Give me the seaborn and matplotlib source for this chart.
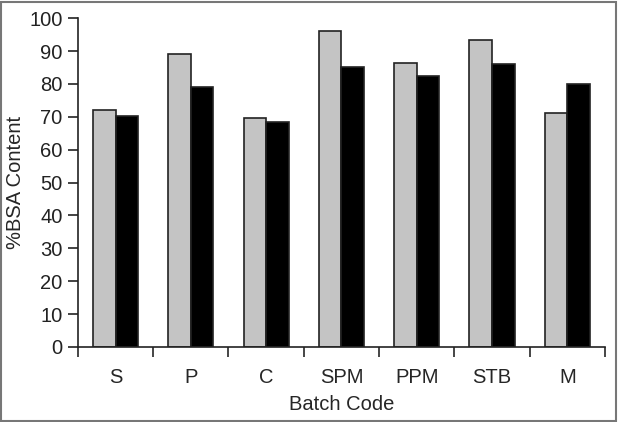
import numpy as np
import pandas as pd
import matplotlib
matplotlib.use("Agg")
import matplotlib.pyplot as plt
import seaborn as sns

# ---- data ----
batches = ["S", "P", "C", "SPM", "PPM", "STB", "M"]
series_a = [72.0, 89.0, 69.5, 96.0, 86.5, 93.3, 71.2]   # grey bars
series_b = [70.3, 79.0, 68.5, 85.0, 82.5, 86.0, 80.0]   # black bars
yticks = list(range(0, 101, 10))

df = pd.DataFrame({
    "Batch": batches * 2,
    "Content": series_a + series_b,
    "Series": ["A"] * len(batches) + ["B"] * len(batches),
})

# ---- style ----
sns.set_style("ticks")
plt.rcParams["font.family"] = ["Liberation Sans", "DejaVu Sans"]
fs = 14.5

fig = plt.figure(figsize=(6.18, 4.22), dpi=100)
ax = fig.add_axes([0.126, 0.178, 0.853, 0.779])

sns.barplot(data=df, x="Batch", y="Content", hue="Series",
            palette=["#c4c4c4", "black"], width=0.6, gap=0,
            edgecolor="#222222", linewidth=1.2, legend=False, ax=ax)

ax.set_ylim(0, 100)
ax.set_xlim(-0.5, len(batches) - 0.5)
ax.set_yticks(yticks)
ax.tick_params(axis="y", direction="out", length=7, width=1.2, pad=4,
               labelsize=fs, colors="#222222")
ax.tick_params(axis="x", which="major", length=0, labelsize=fs, pad=15)
ax.set_xticks(np.arange(-0.5, len(batches), 1), minor=True)
ax.tick_params(axis="x", which="minor", direction="out", length=7, width=1.2)

sns.despine(ax=ax)
for s in ["left", "bottom"]:
    ax.spines[s].set_linewidth(1.2)
    ax.spines[s].set_color("#222222")

ax.set_xlabel("Batch Code", fontsize=fs, labelpad=6)
ax.set_ylabel("%BSA Content", fontsize=fs, labelpad=3)

# grey frame round the whole figure
fig.patches.append(plt.Rectangle((0.002, 0.003), 0.995, 0.993,
                                 transform=fig.transFigure, fill=False,
                                 edgecolor="#777777", linewidth=1.5))

fig.savefig("out.png", dpi=100)
